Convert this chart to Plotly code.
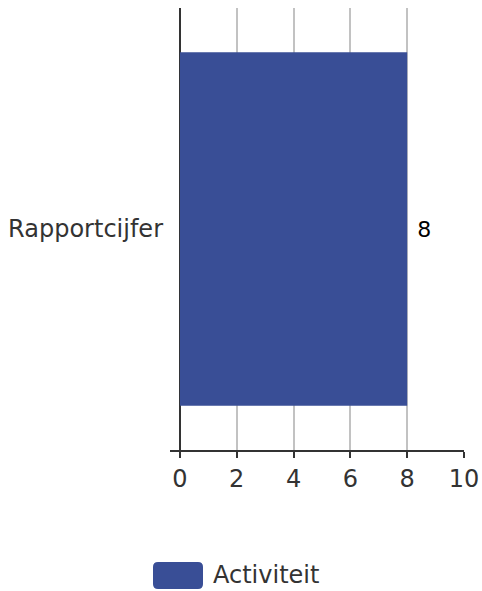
import plotly.graph_objects as go

categories = ["Rapportcijfer"]
values = [8]
series_name = "Activiteit"
tick_vals = [0, 2, 4, 6, 8, 10]

bar_color = "#394e96"

W, H = 482, 591
L, R, T, B = 170, 18, 8, 141
PW, PH = W - L - R, H - T - B

fig = go.Figure()
fig.add_trace(go.Bar(
    y=categories, x=values, orientation="h", name=series_name,
    marker=dict(color=bar_color, line=dict(width=0)),
    text=[str(v) for v in values], texttemplate=" %{text}", textposition="outside",
    textfont=dict(family="DejaVu Sans", size=22, color="#000",
                  shadow="1px 1px 1px #fff, -1px -1px 1px #fff, 1px -1px 1px #fff, -1px 1px 1px #fff"),
    cliponaxis=False,
    showlegend=False,
))

fig.update_layout(
    width=W, height=H,
    margin=dict(l=L, r=R, t=T, b=B, autoexpand=False),
    paper_bgcolor="white", plot_bgcolor="white",
    font=dict(family="DejaVu Sans", size=24, color="#333"),
    bargap=0.2,
    showlegend=False,
)
fig.update_xaxes(
    range=[-0.35, 10], tickvals=tick_vals, ticktext=[str(t) for t in tick_vals],
    showgrid=True, gridcolor="#c2c2c2", gridwidth=2,
    zeroline=True, zerolinecolor="#333", zerolinewidth=2,
    showline=True, linecolor="#333", linewidth=2,
    ticks="outside", ticklen=6, tickwidth=2, tickcolor="#333",
    tickfont=dict(size=24, color="#333"),
)
fig.update_yaxes(
    showgrid=False, showline=False, ticks="", ticklabelstandoff=6,
    tickfont=dict(size=24, color="#333"),
)

# legend drawn as rounded swatch + label below the chart
def px_x(v):
    return (v - L) / PW

def px_y(v):
    return (H - B - v) / PH

x0, x1, y0, y1, r = 153, 203, 562, 589, 5
path = (
    f"M {px_x(x0 + r)},{px_y(y0)} L {px_x(x1 - r)},{px_y(y0)} "
    f"Q {px_x(x1)},{px_y(y0)} {px_x(x1)},{px_y(y0 + r)} "
    f"L {px_x(x1)},{px_y(y1 - r)} Q {px_x(x1)},{px_y(y1)} {px_x(x1 - r)},{px_y(y1)} "
    f"L {px_x(x0 + r)},{px_y(y1)} Q {px_x(x0)},{px_y(y1)} {px_x(x0)},{px_y(y1 - r)} "
    f"L {px_x(x0)},{px_y(y0 + r)} Q {px_x(x0)},{px_y(y0)} {px_x(x0 + r)},{px_y(y0)} Z"
)
fig.add_shape(type="path", xref="paper", yref="paper", path=path,
              line=dict(width=0), fillcolor=bar_color, layer="above")
fig.add_annotation(xref="paper", yref="paper", x=px_x(211), y=px_y(575),
                   text=series_name, showarrow=False, xanchor="left", yanchor="middle",
                   font=dict(size=24, color="#333"))
fig.write_html("out.html", config={"displayModeBar": False},
               post_script="document.body.style.margin='0';document.body.style.overflow='hidden';")
